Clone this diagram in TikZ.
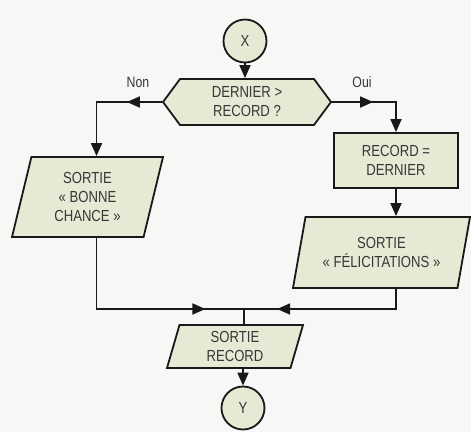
\documentclass[tikz,border=0pt]{standalone}
\usepackage{fontspec}
\setmainfont{Liberation Sans}[FakeStretch=0.82]
\usepackage{tikz}
\usetikzlibrary{shapes.geometric,shapes.symbols,arrows.meta,decorations.markings}

\definecolor{boxfill}{RGB}{229,234,213}
\definecolor{inkgray}{RGB}{55,55,55}
\definecolor{paper}{RGB}{247,247,245}

\tikzset{
  base/.style={draw=black!90, line width=1.8pt, fill=boxfill, text=inkgray,
    font=\fontsize{16}{19}\selectfont, align=center, inner sep=2pt},
  term/.style={base, circle, minimum size=43pt},
  decision/.style={base, signal, signal to=west and east, signal pointer angle=107,
    minimum width=168pt, minimum height=46pt},
  process/.style={base, rectangle, minimum width=124pt, minimum height=55pt},
  io/.style={base, trapezium, trapezium left angle=70, trapezium right angle=110,
    trapezium stretches body},
  line/.style={draw=black!90, line width=1.8pt},
  arr/.style={line, -{Triangle[length=13pt,width=11pt]}},
  midarrow/.style={line, postaction={decorate}, decoration={markings,
    mark=at position #1 with {\arrow{Triangle[length=13pt,width=11pt]}}}},
  lbl/.style={text=inkgray, font=\fontsize{15}{18}\selectfont}
}

\begin{document}
\begin{tikzpicture}[x=1pt, y=-1pt]
  \fill[paper] (0,0) rectangle (471,432);
  \useasboundingbox (0,0) rectangle (471,432);

  \node[term] (X) at (245,41) {X};
  \node[decision] (D) at (247,102) {DERNIER >\\RECORD ?};
  \node[process] (R) at (396,160.5) {RECORD =\\DERNIER};
  \node[io, minimum width=151pt, minimum height=80pt] (B) at (87.5,197) {SORTIE\\« BONNE\\CHANCE »};
  \node[io, minimum width=177pt, minimum height=71pt] (F) at (381.5,252.5) {SORTIE\\« FÉLICITATIONS »};
  \node[io, minimum width=136pt, minimum height=43pt] (S) at (235,346.5) {SORTIE\\RECORD};
  \node[term] (Y) at (243,408) {Y};
  \coordinate (J) at (244,309);

  \node[lbl] (non) at (138,82) {Non};
  \node[lbl] (oui) at (362,82) {Oui};

  % liaisons
  \draw[arr] (X.south) -- (X.south |- D.north);
  \draw[arr, midarrow=35pt] (D.west) -| ([xshift=9pt]B.north);
  \draw[arr, midarrow=41pt] (D.east) -| (R.north);
  \draw[arr] (R.south) -- (R.south |- F.north);
  \draw[midarrow=180pt] ([xshift=9pt]B.south) |- (J);
  \draw[midarrow=139pt] (R.south |- F.south) |- (J);
  \draw[line] (J) -- (J |- S.north);
  \draw[arr] (Y.north |- S.south) -- (Y.north);
\end{tikzpicture}
\end{document}
